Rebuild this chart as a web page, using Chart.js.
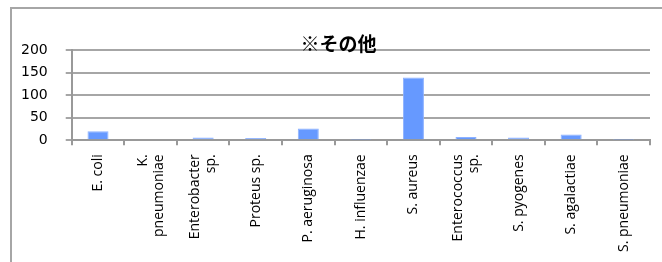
<!DOCTYPE html>
<html>
<head>
<meta charset="utf-8">
<script src="https://cdn.jsdelivr.net/npm/chart.js@4"></script>
<style>
  html, body { margin: 0; padding: 0; background: #fff; }
  body { width: 662px; height: 262px; overflow: hidden; position: relative; }
  #frame {
    position: absolute; left: 10px; top: 7px; width: 652px; height: 255px;
    border-left: 2px solid #a6a6a6; border-top: 2px solid #a6a6a6;
  }
  #wrap { position: absolute; left: 9px; top: 9px; width: 653px; height: 253px; }
</style>
</head>
<body>
<div id="frame"></div>
<div id="wrap"><canvas id="myChart"></canvas></div>
<script>
const titleText = '※その他';
const categories = [
  'E. coli',
  ['K.', 'pneumoniae'],
  ['Enterobacter', 'sp.'],
  'Proteus sp.',
  'P. aeruginosa',
  'H. influenzae',
  'S. aureus',
  ['Enterococcus', 'sp.'],
  'S. pyogenes',
  'S. agalactiae',
  'S. pneumoniae'
];
const counts = [20, 2, 6, 5, 26, 1, 139, 7, 6, 13, 1];
const yTicks = [0, 50, 100, 150, 200];

// centre wrapped (multi-line) rotated labels on their category
const centerWrapped = {
    id: 'centerWrapped',
    afterLayout(chart) {
        // title sits a little right of the canvas centre in the original
        chart.titleBlock.left += 12;
        chart.titleBlock.right += 12;
    },
    beforeDraw(chart) {
        const scale = chart.scales.x;
        const items = scale.getLabelItems();
        items.forEach(it => {
            if (it._moved) return;
            it._moved = true;
            if (Array.isArray(it.label) && it.label.length > 1) {
                it.options.translation[0] -= (it.label.length - 1) * it.font.lineHeight / 2;
            }
        });
    }
};

let chart;
function makeChart(){
    const ctx = document.getElementById('myChart');
    const configuration = {
        type: 'bar',
        data: {
            labels: categories,
            datasets: [{
                data: counts,
                backgroundColor: '#6699ff',
                borderColor: '#8cb1ff',
                borderWidth: {top: 1, left: 1, right: 1, bottom: 0},
                categoryPercentage: 0.4,
                barPercentage: 1.0
            }]
        },
        options: {
            responsive: true,
            maintainAspectRatio: false,
            animation: false,
            layout: { padding: { left: -6, right: 12, top: 0, bottom: 1 } },
            plugins: {
                legend: { display: false },
                tooltip: { enabled: false },
                title: {
                    display: true,
                    text: titleText,
                    color: '#000',
                    font: { family: '"Noto Sans CJK JP"', size: 19, weight: 'bold' },
                    padding: { top: 23, bottom: -4.8 }
                }
            },
            scales: {
                x: {
                    border: { color: '#999', width: 2 },
                    grid: { drawOnChartArea: false, drawTicks: true, tickLength: 5, color: '#999', lineWidth: 2 },
                    ticks: {
                        color: '#000',
                        minRotation: 90, maxRotation: 90,
                        autoSkip: false,
                        padding: 9,
                        font: { family: '"Open Sans"', size: 14, lineHeight: 1.15 }
                    }
                },
                y: {
                    min: 0, max: 200,
                    afterBuildTicks: (axis) => { axis.ticks = yTicks.map(v => ({ value: v })); },
                    border: { color: '#999', width: 2 },
                    grid: { color: '#a6a6a6', lineWidth: 2, tickLength: 6 },
                    ticks: {
                        color: '#000',
                        padding: 18,
                        font: { family: '"DejaVu Sans"', size: 14 }
                    }
                }
            }
        },
        plugins: [centerWrapped]
    };
    chart = new Chart(ctx, configuration);
}

window.onload = function(){
    makeChart();
}
</script>
</body>
</html>
